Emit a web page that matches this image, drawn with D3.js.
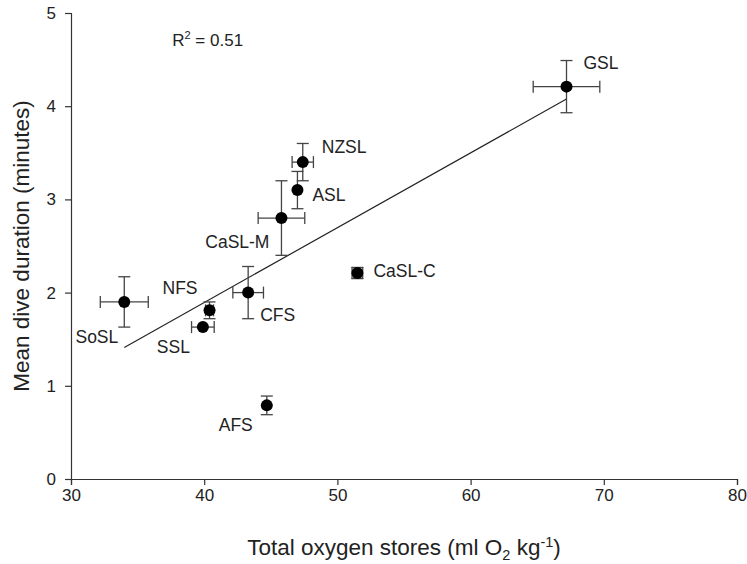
<!DOCTYPE html>
<html>
<head>
<meta charset="utf-8">
<script src="https://cdn.jsdelivr.net/npm/d3@7"></script>
<style>
  body { margin: 0; background: #fff; }
  text { font-family: "Liberation Sans", Arial, sans-serif; fill: #222; }
</style>
</head>
<body>
<svg id="chart" width="747" height="564"></svg>
<script>
// values
const species = ['GSL', 'NZSL', 'ASL', 'CaSL-M', 'CaSL-C', 'CFS', 'NFS', 'SSL', 'SoSL', 'AFS'];
const oxygen = [67.2, 47.4, 47.0, 45.8, 51.5, 43.3, 40.4, 39.9, 34.0, 44.7];
const oxygenErr = [2.5, 0.8, 0, 1.75, 0.4, 1.15, 0.3, 0.85, 1.8, 0];
const duration = [4.21, 3.40, 3.10, 2.80, 2.21, 2.00, 1.81, 1.63, 1.90, 0.79];
const durationErr = [0.28, 0.2, 0.2, 0.4, 0.06, 0.28, 0.09, 0, 0.27, 0.1];
const xTicks = [30, 40, 50, 60, 70, 80];
const yTicks = [0, 1, 2, 3, 4, 5];

// label placement (px offset from the point)
const labelPos = {
  'GSL': [17, -24, 'start'],
  'NZSL': [19, -15, 'start'],
  'ASL': [15, 5, 'start'],
  'CaSL-M': [-12, 24, 'end'],
  'CaSL-C': [16, -2, 'start'],
  'CFS': [12, 22, 'start'],
  'NFS': [-12, -23, 'end'],
  'SSL': [-13, 20, 'end'],
  'SoSL': [-6, 35, 'end'],
  'AFS': [-14, 19, 'end']
};

const svg = d3.select('#chart');
const margin = { top: 13, right: 10, bottom: 85, left: 71 };
const width = +svg.attr('width') - margin.left - margin.right;
const height = +svg.attr('height') - margin.top - margin.bottom;

const x = d3.scaleLinear().domain([30, 80]).range([0, width]);
const y = d3.scaleLinear().domain([0, 5]).range([height, 0]);

const g = svg.append('g')
  .attr('transform', `translate(${margin.left},${margin.top})`);

const data = species.map((name, i) => ({
  name, x: oxygen[i], xe: oxygenErr[i], y: duration[i], ye: durationErr[i]
}));

// least squares fit
const mx = d3.mean(data, d => d.x);
const my = d3.mean(data, d => d.y);
const slope = d3.sum(data, d => (d.x - mx) * (d.y - my)) / d3.sum(data, d => (d.x - mx) ** 2);
const icpt = my - slope * mx;
const [x0, x1] = d3.extent(data, d => d.x);

// axes
const xAxis = g.append('g')
  .attr('transform', `translate(0,${height})`)
  .call(d3.axisBottom(x).tickValues(xTicks).tickFormat(d3.format('d')).tickSize(6).tickPadding(4));
const yAxis = g.append('g')
  .call(d3.axisLeft(y).tickValues(yTicks).tickFormat(d3.format('d')).tickSize(6).tickPadding(9));
[xAxis, yAxis].forEach(a => {
  a.selectAll('path, line').attr('stroke', '#333').attr('stroke-width', 1.2);
  a.selectAll('text').style('font-size', '17px').attr('fill', '#222');
});

g.append('line')
  .attr('x1', x(x0)).attr('y1', y(icpt + slope * x0))
  .attr('x2', x(x1)).attr('y2', y(icpt + slope * x1))
  .attr('stroke', '#222').attr('stroke-width', 1.2);

const cap = 6;
const pts = g.selectAll('.pt').data(data).enter().append('g').attr('class', 'pt');

pts.filter(d => d.xe > 0).each(function (d) {
  const s = d3.select(this);
  const yy = y(d.y);
  s.append('line').attr('x1', x(d.x - d.xe)).attr('x2', x(d.x + d.xe)).attr('y1', yy).attr('y2', yy);
  s.append('line').attr('x1', x(d.x - d.xe)).attr('x2', x(d.x - d.xe)).attr('y1', yy - cap).attr('y2', yy + cap);
  s.append('line').attr('x1', x(d.x + d.xe)).attr('x2', x(d.x + d.xe)).attr('y1', yy - cap).attr('y2', yy + cap);
});
pts.filter(d => d.ye > 0).each(function (d) {
  const s = d3.select(this);
  const xx = x(d.x);
  s.append('line').attr('x1', xx).attr('x2', xx).attr('y1', y(d.y - d.ye)).attr('y2', y(d.y + d.ye));
  s.append('line').attr('x1', xx - cap).attr('x2', xx + cap).attr('y1', y(d.y - d.ye)).attr('y2', y(d.y - d.ye));
  s.append('line').attr('x1', xx - cap).attr('x2', xx + cap).attr('y1', y(d.y + d.ye)).attr('y2', y(d.y + d.ye));
});
pts.selectAll('line').attr('stroke', '#444').attr('stroke-width', 1.3);

pts.append('circle')
  .attr('cx', d => x(d.x)).attr('cy', d => y(d.y))
  .attr('r', 6).attr('fill', '#000');

pts.append('text')
  .attr('x', d => x(d.x) + labelPos[d.name][0])
  .attr('y', d => y(d.y) + labelPos[d.name][1])
  .attr('dy', '0.36em')
  .attr('text-anchor', d => labelPos[d.name][2])
  .style('font-size', '17.5px')
  .text(d => d.name);

// R squared
const r2 = g.append('text')
  .attr('x', x(37.6)).attr('y', 33)
  .style('font-size', '17px');
r2.append('tspan').text('R');
r2.append('tspan').attr('dy', -7).style('font-size', '11px').text('2');
r2.append('tspan').attr('dy', 7).text(' = 0.51');

// axis titles
const xt = svg.append('text')
  .attr('x', margin.left + width / 2).attr('y', 555)
  .attr('text-anchor', 'middle')
  .style('font-size', '22.5px');
xt.append('tspan').text('Total oxygen stores (ml O');
xt.append('tspan').attr('dy', 5).style('font-size', '14.5px').text('2');
xt.append('tspan').attr('dy', -5).text(' kg');
xt.append('tspan').attr('dy', -8).style('font-size', '14.5px').text('-1');
xt.append('tspan').attr('dy', 8).text(')');

svg.append('text')
  .attr('transform', `translate(29,${margin.top + height / 2}) rotate(-90)`)
  .attr('text-anchor', 'middle')
  .style('font-size', '22.5px')
  .text('Mean dive duration (minutes)');
</script>
</body>
</html>
